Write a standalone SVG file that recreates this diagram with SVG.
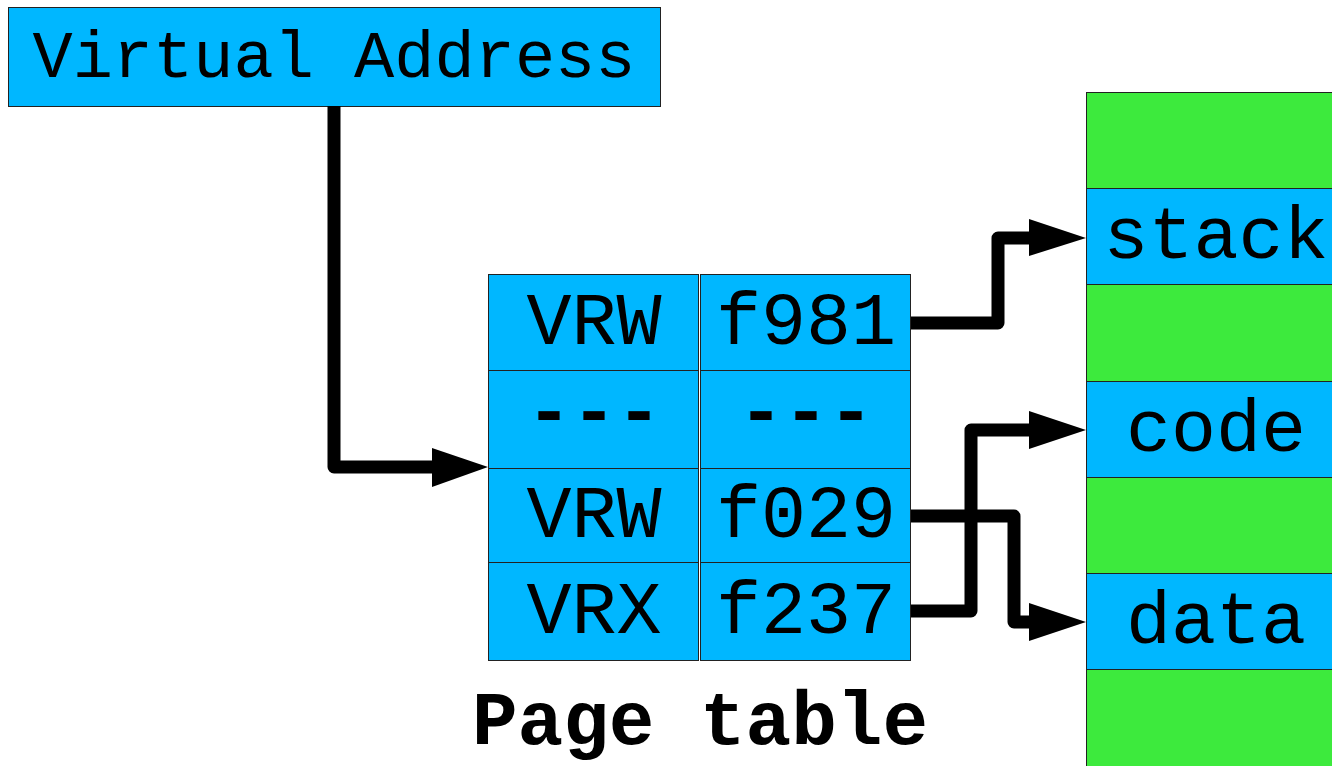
<svg xmlns="http://www.w3.org/2000/svg" width="1332" height="766" viewBox="0 0 1332 766">
<style>
.blue{fill:#00b7ff;stroke:#222;stroke-width:1}
.green{fill:#3dea3d;stroke:#222;stroke-width:1}
.t{font-family:"Liberation Mono","Courier New",monospace;fill:#000;text-anchor:middle}
.cell{font-size:75px}
.conn{fill:none;stroke:#000;stroke-width:13;stroke-linejoin:round}
.head{fill:#000}
</style>
<rect width="1332" height="766" fill="#fff"/>
<g id="virtual-address">
<rect class="blue" x="8.5" y="7.5" width="652" height="99"/>
<text class="t" x="334" y="77" font-size="67">Virtual Address</text>
</g>
<g id="page-table">
<rect class="blue" x="488.5" y="274.5" width="210" height="96"/>
<rect class="blue" x="700.5" y="274.5" width="210" height="96"/>
<rect class="blue" x="488.5" y="370.5" width="210" height="98"/>
<rect class="blue" x="700.5" y="370.5" width="210" height="98"/>
<rect class="blue" x="488.5" y="468.5" width="210" height="94"/>
<rect class="blue" x="700.5" y="468.5" width="210" height="94"/>
<rect class="blue" x="488.5" y="562.5" width="210" height="98"/>
<rect class="blue" x="700.5" y="562.5" width="210" height="98"/>
<text class="t cell" x="594" y="344">VRW</text>
<text class="t cell" x="806" y="344">f981</text>
<text class="t cell" x="594" y="435" font-weight="bold">---</text>
<text class="t cell" x="806" y="435" font-weight="bold">---</text>
<text class="t cell" x="594" y="537">VRW</text>
<text class="t cell" x="806" y="537">f029</text>
<text class="t cell" x="594" y="633">VRX</text>
<text class="t cell" x="806" y="633">f237</text>
</g>
<g id="page-table-label">
<text class="t" x="700" y="744" font-size="76" font-weight="bold">Page table</text>
</g>
<g id="memory">
<rect class="green" x="1086.5" y="92.5" width="260" height="96"/>
<rect class="blue" x="1086.5" y="188.5" width="260" height="96"/>
<rect class="green" x="1086.5" y="284.5" width="260" height="97"/>
<rect class="blue" x="1086.5" y="381.5" width="260" height="96"/>
<rect class="green" x="1086.5" y="477.5" width="260" height="96"/>
<rect class="blue" x="1086.5" y="573.5" width="260" height="96"/>
<rect class="green" x="1086.5" y="669.5" width="260" height="100"/>
<text class="t cell" x="1216" y="258">stack</text>
<text class="t cell" x="1216" y="451">code</text>
<text class="t cell" x="1216" y="643">data</text>
</g>
<g id="connectors">
<path class="conn" d="M334,106 V467 H434"/>
<polygon class="head" points="432,448 488,467 432,487"/>
<path class="conn" d="M911,323 H998 V238 H1031"/>
<polygon class="head" points="1029,219 1086,238 1029,256"/>
<path class="conn" d="M911,516 H1014 V622 H1031"/>
<polygon class="head" points="1029,603 1086,622 1029,641"/>
<path class="conn" d="M911,611 H971 V430 H1031"/>
<polygon class="head" points="1029,411 1086,430 1029,449"/>
</g>
</svg>
